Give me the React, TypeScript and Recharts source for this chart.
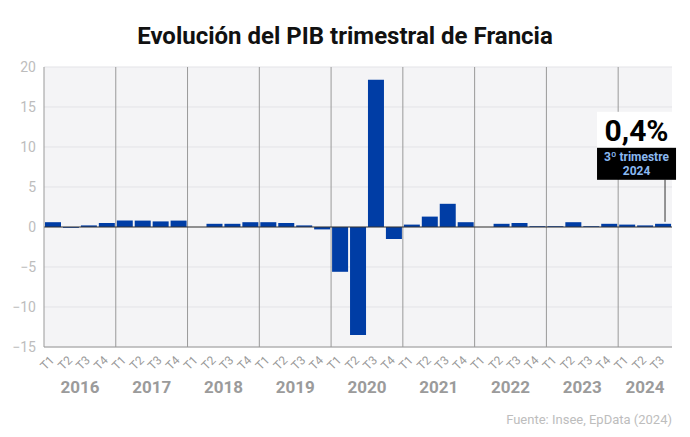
import { BarChart, Bar, XAxis, YAxis, CartesianGrid, ReferenceLine, ReferenceDot } from 'recharts';

const YEARS = ['2016', '2017', '2018', '2019', '2020', '2021', '2022', '2023', '2024'];
const QUARTERS = ['T1', 'T2', 'T3', 'T4'];
// quarterly GDP change (%), 2016 T1 .. 2024 T3
const GDP_GROWTH = [
  0.6, -0.1, 0.2, 0.5,
  0.8, 0.8, 0.7, 0.8,
  0.0, 0.4, 0.4, 0.6,
  0.6, 0.5, 0.2, -0.3,
  -5.6, -13.5, 18.4, -1.5,
  0.3, 1.3, 2.9, 0.6,
  0.0, 0.4, 0.5, 0.1,
  0.1, 0.6, 0.1, 0.4,
  0.3, 0.2, 0.4,
];
const Y_TICKS = [-15, -10, -5, 0, 5, 10, 15, 20];
const LAST_LABEL = '0,4%';
const LAST_PERIOD = ['3º trimestre', '2024'];

const data = GDP_GROWTH.map((v, i) => ({
  key: `${YEARS[Math.floor(i / 4)]}-${QUARTERS[i % 4]}`,
  year: YEARS[Math.floor(i / 4)],
  quarter: QUARTERS[i % 4],
  value: v,
}));

const last = data[data.length - 1];
const BAND = (672 - 44) / data.length;

function QuarterTick(props: any) {
  const { x, y, payload, index } = props;
  const d = data[index];
  if (!d) return null;
  const quartersInYear = data.filter(r => r.year === d.year).length;
  let yearLabel = null;
  if (d.quarter === 'T2') {
    const cx = quartersInYear === 4 ? x + BAND / 2 : x;
    yearLabel = (
      <text x={cx} y={y + 38} textAnchor="middle" fill="#9b9b9b" fontSize={17} fontWeight={700}>
        {d.year}
      </text>
    );
  }
  return (
    <g>
      <text
        x={x + 2}
        y={y + 6}
        transform={`rotate(-45, ${x + 2}, ${y + 6})`}
        textAnchor="end"
        fill="#999"
        fontSize={12}
      >
        {payload.value.split('-')[1]}
      </text>
      {yearLabel}
    </g>
  );
}

function Callout(props: any) {
  const { cx, cy } = props;
  const left = cx - 66;
  const right = cx + 13;
  const top = cy - 112;
  const mid = cy - 76;
  const bottom = cy - 44;
  return (
    <g>
      <line x1={cx + 2} y1={bottom} x2={cx + 2} y2={cy - 2} stroke="#333" strokeWidth={1} />
      <rect x={left} y={top} width={right - left} height={mid - top} fill="#fff" />
      <text x={(left + right) / 2} y={mid - 7} textAnchor="middle" fontSize={30} fontWeight={700} fill="#000">
        {LAST_LABEL}
      </text>
      <rect x={left} y={mid} width={right - left} height={bottom - mid} fill="#000" />
      <text x={(left + right) / 2} y={mid + 13} textAnchor="middle" fontSize={12} fontWeight={700} fill="#8ab8f0">
        {LAST_PERIOD[0]}
      </text>
      <text x={(left + right) / 2} y={mid + 27} textAnchor="middle" fontSize={12} fontWeight={700} fill="#8ab8f0">
        {LAST_PERIOD[1]}
      </text>
    </g>
  );
}

export default function App() {
  return (
    <div style={{ position: 'relative', width: 690, height: 437, margin: -8, background: '#fff', fontFamily: 'Roboto, sans-serif' }}>
      <div
        style={{
          position: 'absolute',
          top: 22,
          left: 0,
          width: 690,
          textAlign: 'center',
          fontSize: 24,
          fontWeight: 700,
          color: '#111',
        }}
      >
        Evolución del PIB trimestral de Francia
      </div>
      <BarChart
        width={690}
        height={437}
        data={data}
        margin={{ top: 67, right: 18, left: 0, bottom: 0 }}
        barCategoryGap={1}
      >
        <CartesianGrid vertical={false} stroke="#e3e3e7" fill="#f4f4f6" />
        <XAxis
          dataKey="key"
          interval={0}
          tick={<QuarterTick />}
          tickLine={false}
          axisLine={{ stroke: '#999' }}
          height={90}
        />
        <YAxis
          width={44}
          domain={[-15, 20]}
          ticks={Y_TICKS}
          tickLine={false}
          axisLine={{ stroke: '#999' }}
          tick={{ fill: '#bdbdbd', fontSize: 14 }}
          tickFormatter={(v: number) => String(v).replace('-', '−')}
        />
        {YEARS.slice(1).map(y => (
          <ReferenceLine key={y} x={`${y}-T1`} position="start" stroke="#999" strokeWidth={1} />
        ))}
        <ReferenceLine y={0} stroke="#333" strokeWidth={1} />
        <Bar dataKey="value" fill="#003da5" isAnimationActive={false} />
        <ReferenceDot x={last.key} y={last.value} r={0} shape={<Callout />} />
      </BarChart>
      <div
        style={{
          position: 'absolute',
          right: 18,
          top: 412,
          fontSize: 13,
          color: '#bdbdbd',
        }}
      >
        Fuente: Insee, EpData (2024)
      </div>
    </div>
  );
}
